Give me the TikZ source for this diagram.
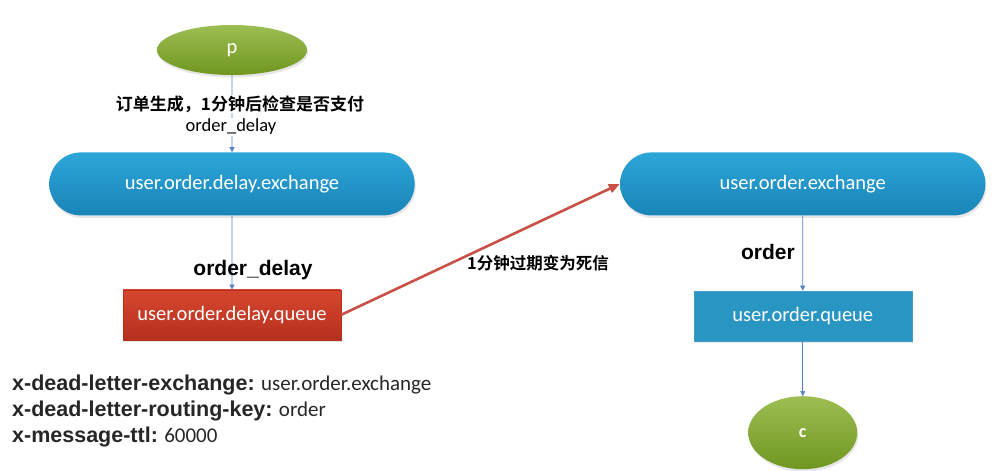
\documentclass[tikz,border=0pt]{standalone}
\usepackage{fontspec}
\setmainfont{Carlito}
\newfontfamily\arialfont{Liberation Sans}
\newfontfamily\cjk[BoldFont={Noto Sans CJK SC Bold}]{Noto Sans CJK SC}
\usepackage{tikz}
\usetikzlibrary{arrows.meta,positioning,shapes,shadows}

\definecolor{leaf}{RGB}{140,178,52}
\definecolor{leafdark}{RGB}{112,150,32}
\definecolor{sky}{RGB}{44,166,216}
\definecolor{skydark}{RGB}{26,132,184}
\definecolor{brick}{RGB}{214,70,46}
\definecolor{brickdark}{RGB}{182,48,30}
\definecolor{wire}{RGB}{84,130,196}
\definecolor{deadline}{RGB}{200,80,70}

\begin{document}
\begin{tikzpicture}[x=1pt, y=-1pt, node distance=75pt,
    every node/.style={font=\fontsize{20.5}{24}\selectfont},
    soft/.style={drop shadow={opacity=0.2, shadow xshift=1pt, shadow yshift=-2.5pt}},
    client/.style={ellipse, soft, top color=leaf!85!white, bottom color=leafdark, text=white, inner sep=0pt},
    xchg/.style={rounded rectangle, soft, minimum width=372pt, minimum height=63pt, top color=sky, bottom color=skydark, text=white},
    queue/.style={rectangle, soft, minimum width=218pt, minimum height=50pt, text=white},
    flow/.style={-{Triangle[length=5pt,width=5pt]}, wire, line width=0.6pt},
    key/.style={font=\arialfont\bfseries\fontsize{21}{24}\selectfont}]
        \useasboundingbox (0,0) rectangle (997,471);
        \node[client, minimum width=150pt, minimum height=50pt] (p) at (232,50) {p};
        \node[xchg, below=77pt of p] (delayx) {user.order.delay.exchange};
        \node[queue, draw=brickdark, top color=brick, bottom color=brickdark, below=74pt of delayx] (delayq) {user.order.delay.queue};
        \node[xchg, right=205pt of delayx] (orderx) {user.order.exchange};
        \node[queue, draw=skydark!80, fill=sky!90!black, below=75pt of orderx] (orderq) {user.order.queue};
        \node[client, minimum width=109pt, minimum height=73pt, below=55pt of orderq, font=\bfseries\fontsize{18}{20}\selectfont] (c) {c};
        \draw[flow] (p) -- (delayx);
        \draw[flow] (delayx) -- (delayq);
        \draw[flow] (orderx) -- (orderq);
        \draw[flow] (orderq) -- (c);
        \draw[-{Triangle[length=11pt,width=9pt]}, deadline, line width=2.6pt] (delayq.east) -- (orderx.west);
        \node[fill=white, inner sep=1pt, font=\cjk\bfseries\fontsize{17}{20}\selectfont] (note) at (240,104) {订单生成，1分钟后检查是否支付};
        \node[fill=white, inner sep=1pt, font=\fontsize{18.5}{20}\selectfont] (notekey) at (231,127) {order\_delay};
        \node[key] (dkey) at (253,270) {order\_delay};
        \node[key] (okey) at (768,252) {order};
        \node[font=\cjk\bfseries\fontsize{16.5}{20}\selectfont] (ttl) at (538,263) {1分钟过期变为死信};
        \node[anchor=north west, align=left, inner sep=0pt, text=black!85, font=\fontsize{21}{26}\selectfont] (args) at (12,375) {%
            {\arialfont\bfseries\fontsize{21.5}{26}\selectfont x-dead-letter-exchange:} user.order.exchange\\
            {\arialfont\bfseries\fontsize{21.5}{26}\selectfont x-dead-letter-routing-key:} order\\
            {\arialfont\bfseries\fontsize{21.5}{26}\selectfont x-message-ttl:} 60000};
    \end{tikzpicture}
\end{document}
